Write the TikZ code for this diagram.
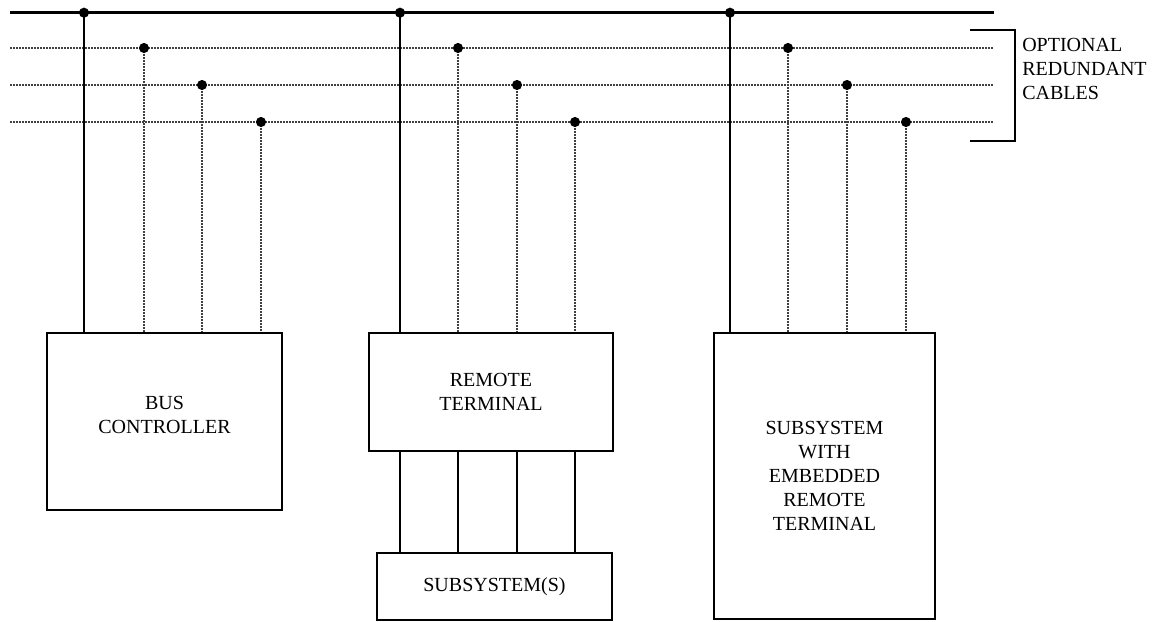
\documentclass[tikz,border=0pt]{standalone}
\usepackage{fontspec}
\setmainfont{Liberation Serif}
\begin{document}
\begin{tikzpicture}[x=0.75pt,y=-0.75pt,
  thick bus/.style={line width=2.2pt},
  thin bus/.style={line width=0.8pt, draw=black!75, dash pattern=on 1.5pt off 0.75pt},
  boxnode/.style={draw, line width=2pt, inner sep=0pt, align=center,
     font=\fontsize{15}{18}\selectfont},
  boxtext/.style={inner sep=0pt, align=center, font=\fontsize{15}{18}\selectfont},
  tapdot/.style={fill=black},
  lbl/.style={font=\fontsize{15}{18}\selectfont, align=left, inner sep=0pt, anchor=north west}]
\useasboundingbox (0,0) rectangle (1152,621);
% bus end points
\coordinate (a0) at (10,12.7);  \coordinate (b0) at (994,12.7);
\coordinate (a1) at (10,48);    \coordinate (b1) at (993,48);
\coordinate (a2) at (10,85);    \coordinate (b2) at (993,85);
\coordinate (a3) at (10,122);   \coordinate (b3) at (993,122);
\draw[thin bus] (a1) -- (b1);
\draw[thin bus] (a2) -- (b2);
\draw[thin bus] (a3) -- (b3);
\draw[thick bus] (a0) -- (b0);
% boxes
\node[boxnode, minimum width=235*0.75pt, minimum height=177*0.75pt] (bc) at (164.5,421.5) {};
\node[boxtext] (bctext) at (164.5,414.5) {BUS\\CONTROLLER};
\node[boxnode, minimum width=244*0.75pt, minimum height=118*0.75pt] (rt) at (491,392) {REMOTE\\TERMINAL};
\node[boxnode, minimum width=235*0.75pt, minimum height=67*0.75pt] (ss) at (494.5,586.5) {SUBSYSTEM(S)};
\node[boxnode, minimum width=221*0.75pt, minimum height=286*0.75pt] (emb) at (824.5,476) {SUBSYSTEM\\WITH\\EMBEDDED\\REMOTE\\TERMINAL};
% tap points
\foreach \g/\xa/\xb/\xc/\xd/\bx in {1/84/144/202/261/bc, 2/400/458/517/575/rt, 3/730/788/847/906/emb}{
  \coordinate (t\g a) at (\xa,12.7);
  \coordinate (t\g b) at (\xb,48);
  \coordinate (t\g c) at (\xc,85);
  \coordinate (t\g d) at (\xd,122);
  \draw[thick bus] (t\g a) -- (t\g a |- \bx.north);
  \draw[thin bus] (t\g b) -- (t\g b |- \bx.north);
  \draw[thin bus] (t\g c) -- (t\g c |- \bx.north);
  \draw[thin bus] (t\g d) -- (t\g d |- \bx.north);
  \foreach \k in {a,b,c,d}{\fill[tapdot] (t\g\k) circle[radius=3.8pt];}
}
% remote terminal to subsystems
\foreach \xx in {400,458,517,575}{
  \draw[thick bus] (rt.south -| \xx,0) -- (ss.north -| \xx,0);
}
% bracket
\coordinate (br1) at (970,30);
\coordinate (br2) at (1015,30);
\coordinate (br3) at (1015,141);
\coordinate (br4) at (970,141);
\draw[line width=1.6pt] (br1) -- (br2) -- (br3) -- (br4);
\node[lbl] (opt) at (1022,38) {OPTIONAL\\REDUNDANT\\CABLES};
\end{tikzpicture}
\end{document}
